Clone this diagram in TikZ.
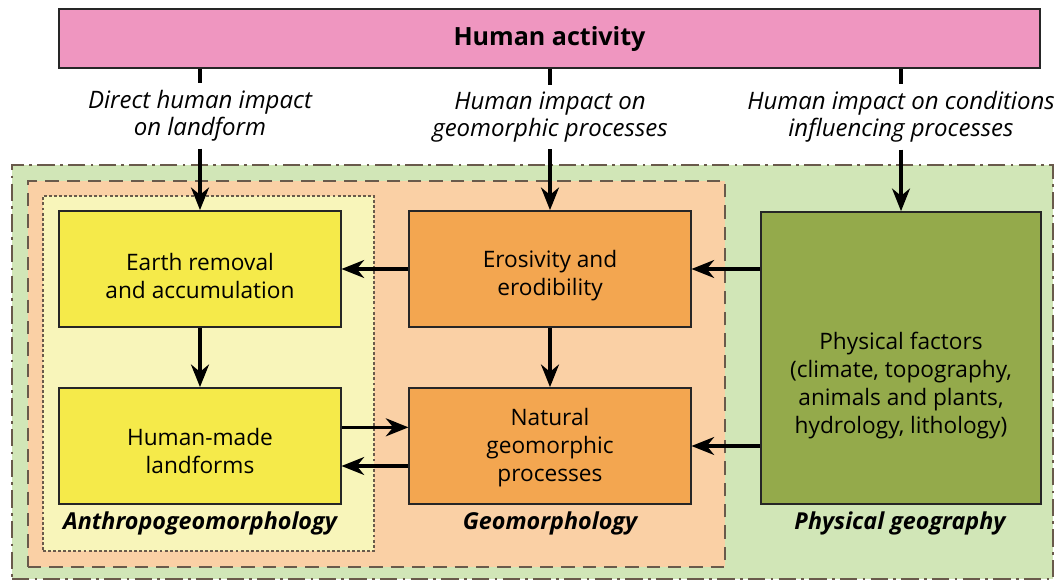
\documentclass[tikz,border=0pt]{standalone}
\usepackage{fontspec}
\setmainfont{Open Sans}
\usetikzlibrary{arrows.meta}

\definecolor{pinkbox}{RGB}{239,150,192}
\definecolor{greenzone}{RGB}{209,230,183}
\definecolor{orangezone}{RGB}{250,208,165}
\definecolor{yellowzone}{RGB}{248,245,186}
\definecolor{yellowbox}{RGB}{245,234,74}
\definecolor{orangebox}{RGB}{243,166,80}
\definecolor{greenbox}{RGB}{148,170,75}
\definecolor{zoneline}{RGB}{105,90,75}

\begin{document}
\begin{tikzpicture}[
    x=0.75pt, y=-0.75pt,
    font=\fontsize{17}{21}\selectfont,
    zone/.style={draw=zoneline, line width=1.8pt, minimum width=#1, inner sep=0pt},
    box/.style={draw=black!85, line width=1.3pt, inner sep=0pt,
                minimum width=211pt, minimum height=87pt},
    earthbox/.style={box, fill=yellowbox},
    procbox/.style={box, fill=orangebox},
    boxtext/.style={align=center},
    impact/.style={align=center, inner sep=5pt, font=\fontsize{18}{20.5}\selectfont\itshape},
    zonetag/.style={anchor=base, font=\fontsize{17.5}{21}\selectfont\bfseries\itshape},
    wire/.style={line width=2.3pt, black},
    >={Stealth[length=17pt, width=13.5pt]}
]
\useasboundingbox (0,0) rectangle (1064,581);

% nested zones
\node[zone=780.75pt, fill=greenzone, minimum height=310.5pt,
      dash pattern=on 13pt off 4pt on 2pt off 4pt] (physzone) at (532.5,372) {};
\node[zone=522.75pt, fill=orangezone, minimum height=289.5pt,
      dash pattern=on 10pt off 6pt] (geozone) at (376.5,374) {};
\node[zone=248.25pt, fill=yellowzone, minimum height=266.25pt, line width=1.2pt,
      dash pattern=on 2.2pt off 1.6pt] (anthzone) at (208.5,373.5) {};

% top box
\node[draw=black!85, line width=1.3pt, fill=pinkbox, minimum width=735.75pt, minimum height=44.25pt,
      font=\fontsize{18.8}{22}\selectfont\bfseries] (hum) at (549.5,38.5) {Human activity};

\node[impact] (d1) at (200,116) {Direct human impact\\on landform};
\node[impact] (d2) at (550,117) {Human impact on\\geomorphic processes};
\node[impact] (d3) at (901,117) {Human impact on conditions\\influencing processes};

% boxes
\node[earthbox] (earth) at (200,269) {};
\node[earthbox] (made) at (200,446) {};
\node[procbox] (ero) at (550,269) {};
\node[procbox] (nat) at (550,446) {};
\node[box, fill=greenbox, minimum width=210pt, minimum height=219pt] (phys) at (901,358) {};

\node[boxtext] (eartht) at (200,276) {Earth removal\\and accumulation};
\node[boxtext] (madet) at (200,451) {Human-made\\landforms};
\node[boxtext] (erot) at (550,276) {Erosivity and\\erodibility};
\node[boxtext] (natt) at (550,448) {Natural\\geomorphic\\processes};
\node[boxtext] (physt) at (901,386) {Physical factors\\(climate, topography,\\animals and plants,\\hydrology, lithology)};

\node[zonetag] (anthtag) at (200,529) {Anthropogeomorphology};
\node[zonetag] (geotag) at (550,529) {Geomorphology};
\node[zonetag] (phystag) at (900,529) {Physical geography};

% connectors
\foreach \d/\t in {d1/earth, d2/ero, d3/phys} {
  \draw[wire] (hum.south -| \d.north) -- (\d.north);
  \draw[wire, ->] (\d.south) -- (\t.north);
}
\draw[wire, ->] (ero) -- (earth);
\draw[wire, ->] (earth) -- (made);
\draw[wire, ->] (ero) -- (nat);
\draw[wire, ->] ([yshift=14pt]made.east) -- ([yshift=14pt]made.east -| nat.west);
\draw[wire, ->] ([yshift=-15pt]nat.west) -- ([yshift=-15pt]nat.west -| made.east);
\draw[wire, ->] (phys.west |- ero) -- (ero.east);
\draw[wire, ->] (phys.west |- nat) -- (nat.east);

\end{tikzpicture}
\end{document}
